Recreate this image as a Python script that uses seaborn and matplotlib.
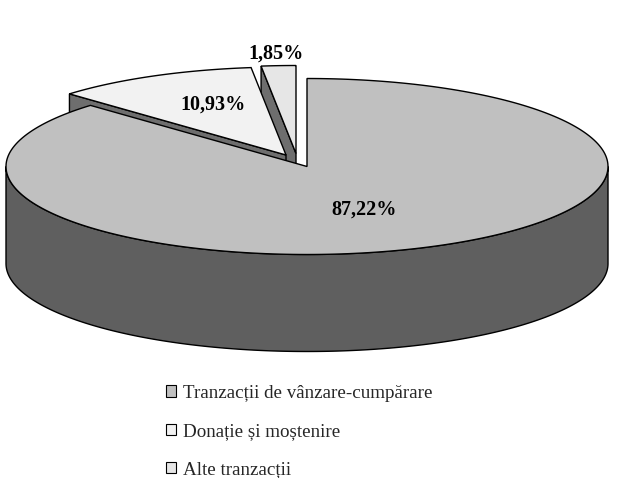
import numpy as np
import seaborn as sns
import matplotlib.pyplot as plt
from matplotlib.patches import Patch, Polygon

labels = ["Tranzacții de vânzare-cumpărare", "Donație și moștenire", "Alte tranzacții"]
values = [87.22, 10.93, 1.85]
value_text = ["87,22%", "10,93%", "1,85%"]
colors = ["#c0c0c0", "#f2f2f2", "#e6e6e6"]

sns.set_theme(style="white")
plt.rcParams["font.family"] = ["Liberation Serif", "DejaVu Serif"]
palette = sns.color_palette(colors)
side_main = "#5f5f5f"
side_slice = "#6e6e6e"

# pixel coordinates so the ellipse lines up with the picture
fig = plt.figure(figsize=(6.32, 4.78), dpi=100)
ax = fig.add_axes([0, 0, 1, 1])
ax.set_xlim(0, 632)
ax.set_ylim(478, 0)
ax.set_axis_off()

rx, ry, depth = 301, 88, 97
centers = [(307, 166.5), (286, 155), (296, 153.5)]
text_pos = [(364.5, 210), (212.5, 105), (276, 53.5)]


def arc(cx, cy, t0, t1):
    t = np.radians(np.linspace(t0, t1, 240))
    return np.column_stack([cx + rx * np.sin(t), cy - ry * np.cos(t)])


# angles clockwise from 12 o'clock
stops = np.cumsum([0] + values) / sum(values) * 360


def draw_slice(i):
    cx, cy = centers[i]
    t0, t1 = stops[i], stops[i + 1]
    pts = arc(cx, cy, t0, t1)
    if i > 0:
        # cut face of the pulled out slice, only the start edge can be seen
        a = pts[0]
        face = [(cx, cy), a, (a[0], a[1] + depth), (cx, cy + depth)]
        ax.add_patch(Polygon(face, fc=side_slice, ec="black", lw=1))
    else:
        # outer wall of the big slice, front half only
        front = arc(cx, cy, 90, 270)
        wall = np.vstack([front, (front + [0, depth])[::-1]])
        ax.add_patch(Polygon(wall, fc=side_main, ec="black", lw=1))
    top = np.vstack([[(cx, cy)], pts])
    ax.add_patch(Polygon(top, fc=palette[i], ec="black", lw=1))


for i in [2, 1, 0]:
    draw_slice(i)

for txt, (x, y) in zip(value_text, text_pos):
    ax.text(x, y, txt, ha="center", va="center", fontsize=14.5, fontweight="bold", color="black")

handles = [Patch(fc=c, ec="black", lw=0.8) for c in palette]
ax.legend(handles, labels, loc="upper left", bbox_to_anchor=(162.5 / 632, 1 - 381 / 478),
          frameon=False, fontsize=13.7, handlelength=0.53, handleheight=0.53,
          handletextpad=0.36, labelspacing=1.11, borderpad=0.2, borderaxespad=0)

fig.savefig("out.png", dpi=100)
